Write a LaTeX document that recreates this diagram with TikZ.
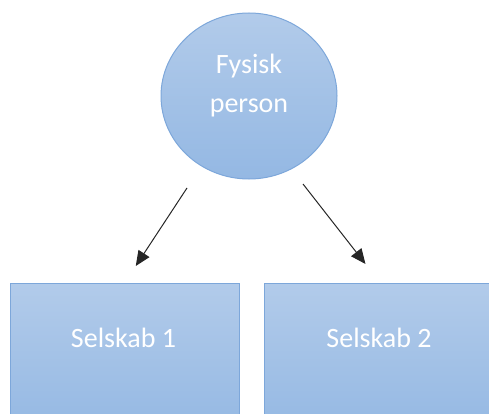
\documentclass[tikz,border=0pt]{standalone}
\usepackage{fontspec}
\setmainfont{Carlito}
\usetikzlibrary{shapes.geometric,arrows.meta}
\definecolor{filltop}{RGB}{178,203,234}
\definecolor{fillbot}{RGB}{148,184,227}
\definecolor{edge}{RGB}{125,167,218}
\tikzset{
  shapebox/.style={draw=edge, line width=1pt, top color=filltop, bottom color=fillbot, inner sep=0pt},
  lbl/.style={text=white, font=\fontsize{28}{34}\selectfont, anchor=base, inner sep=0pt},
  arr/.style={line width=1pt, draw=black!85, -{Triangle[length=15pt,width=13pt]}}
}
\begin{document}
\begin{tikzpicture}[x=1pt,y=-1pt]
\useasboundingbox (0,0) rectangle (489,414);
\clip (0,0) rectangle (489,414);
\node[shapebox, ellipse, minimum width=176pt, minimum height=166pt] (c) at (249,96) {};
\node[lbl] (t1) at (249,74) {Fysisk};
\node[lbl] (t2) at (249,113) {person};
\node[shapebox, rectangle, minimum width=229.5pt, minimum height=150pt, anchor=north west] (b1) at (9.5,283) {};
\node[shapebox, rectangle, minimum width=230pt, minimum height=150pt, anchor=north west] (b2) at (264,283) {};
\node[lbl] (s1) at (123.5,347) {Selskab 1};
\node[lbl] (s2) at (379,347) {Selskab 2};
\coordinate (l1) at ([shift={(-62,92)}]c.center);
\coordinate (l2) at ([shift={(11,-17)}]b1.north);
\coordinate (r1) at ([shift={(54,88)}]c.center);
\coordinate (r2) at ([shift={(-14,-19)}]b2.north);
\draw[arr] (l1) -- (l2);
\draw[arr] (r1) -- (r2);
\end{tikzpicture}
\end{document}
